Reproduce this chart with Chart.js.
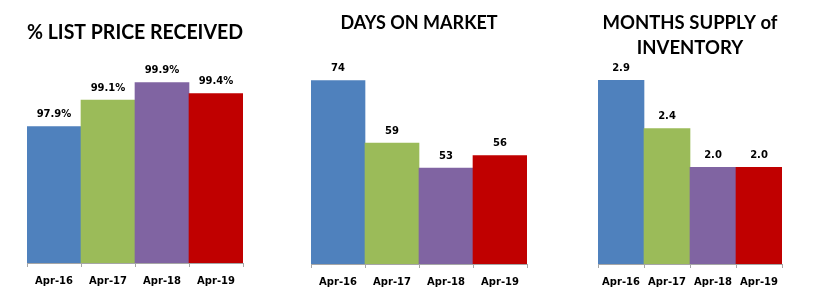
<!DOCTYPE html>
<html>
<head>
<meta charset="utf-8">
<script src="https://cdn.jsdelivr.net/npm/chart.js@4.4.1/dist/chart.umd.min.js"></script>
<style>
  html, body { margin: 0; padding: 0; background: #ffffff; }
  #wrap { position: relative; width: 826px; height: 300px; overflow: hidden; background: #fff; }
  canvas { position: absolute; top: 0; }
</style>
</head>
<body>
<div id="wrap">
  <canvas id="c1" width="280" height="300" style="left:0px"></canvas>
  <canvas id="c2" width="270" height="300" style="left:280px"></canvas>
  <canvas id="c3" width="276" height="300" style="left:550px"></canvas>
</div>
<script>
// ---- data ----
const categories = ['Apr-16', 'Apr-17', 'Apr-18', 'Apr-19'];
const listPriceValues = [97.9, 99.1, 99.9, 99.4];
const daysOnMarketValues = [74, 59, 53, 56];
const monthsSupplyValues = [2.9, 2.4, 2.0, 2.0];
const barColors = ['#4F81BD', '#9BBB59', '#8064A2', '#C00000'];
const titles = ['% LIST PRICE RECEIVED', 'DAYS ON MARKET', ['MONTHS SUPPLY of', 'INVENTORY']];

function labelPlugin(fmt) {
  return {
    id: 'valueLabels',
    afterDatasetsDraw(chart) {
      const ctx = chart.ctx;
      const meta = chart.getDatasetMeta(0);
      const data = chart.data.datasets[0].data;
      ctx.save();
      ctx.font = 'bold 10px "DejaVu Sans"';
      ctx.fillStyle = '#000000';
      ctx.textAlign = 'center';
      ctx.textBaseline = 'middle';
      meta.data.forEach((bar, i) => {
        ctx.fillText(fmt(data[i]), bar.x, bar.y - 12);
      });
      ctx.restore();
    }
  };
}

function makeChart(id, values, title, yMin, yMax, pad, titleFont, titlePad, fmt) {
  return new Chart(document.getElementById(id), {
    type: 'bar',
    data: {
      labels: categories,
      datasets: [{
        data: values,
        backgroundColor: barColors,
        borderWidth: 0,
        categoryPercentage: 1.0,
        barPercentage: 1.0
      }]
    },
    options: {
      responsive: false,
      animation: false,
      devicePixelRatio: 1,
      layout: { padding: pad },
      plugins: {
        legend: { display: false },
        tooltip: { enabled: false },
        title: {
          display: true,
          text: title,
          color: '#000000',
          font: Object.assign({ family: 'Lato', weight: 'bold' }, titleFont),
          padding: titlePad
        }
      },
      scales: {
        x: {
          grid: { display: true, drawOnChartArea: false, drawTicks: true, tickLength: 4, color: '#A6A6A6', offset: true },
          border: { display: true, color: '#A6A6A6' },
          ticks: { color: '#000000', padding: 8, font: { family: 'DejaVu Sans', weight: 'bold', size: 10 } }
        },
        y: { display: false, min: yMin, max: yMax }
      }
    },
    plugins: [labelPlugin(fmt)]
  });
}

makeChart('c1', listPriceValues, titles[0], 91.7, 101,
  { left: 27, right: 37, top: 0, bottom: 5 },
  { size: 20, lineHeight: 1.2 }, { top: 21, bottom: 13.4 },
  v => v.toFixed(1) + '%');
makeChart('c2', daysOnMarketValues, titles[1], 30, 80,
  { left: 31, right: 23, top: 0, bottom: 4 },
  { size: 18, lineHeight: 1.2 }, { top: 12.2, bottom: 21.7 },
  v => String(v));
makeChart('c3', monthsSupplyValues, titles[2], 1, 3.1,
  { left: 48, right: 44, top: 0, bottom: 4 },
  { size: 18.5, lineHeight: 1.351 }, { top: 10.5, bottom: 0.5 },
  v => v.toFixed(1));
</script>
</body>
</html>
